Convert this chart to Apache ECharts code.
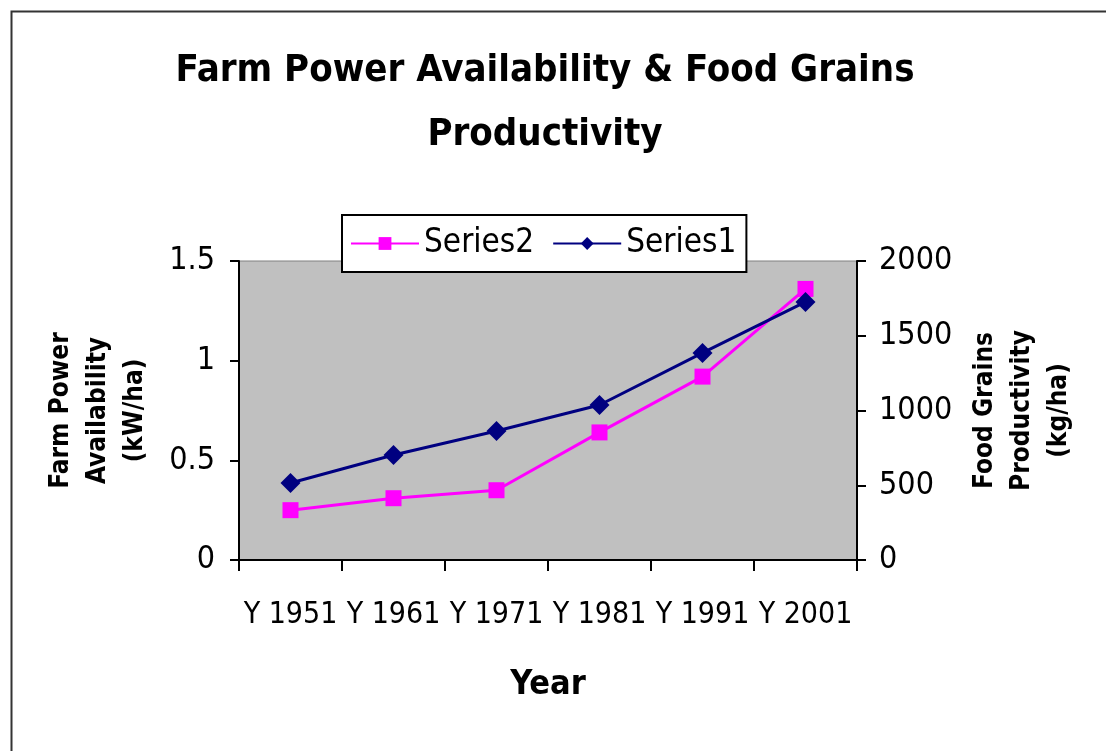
<!DOCTYPE html>
<html>
<head>
<meta charset="utf-8">
<title>Farm Power Availability & Food Grains Productivity</title>
<script src="https://cdn.jsdelivr.net/npm/echarts@6/dist/echarts.min.js"></script>
<style>
  html, body { margin: 0; padding: 0; background: #fff; }
  #main { width: 1106px; height: 751px; }
</style>
</head>
<body>
<div id="main"></div>
<script>
// data
var years = ['Y 1951', 'Y 1961', 'Y 1971', 'Y 1981', 'Y 1991', 'Y 2001'];
var farmPower = [0.25, 0.31, 0.35, 0.64, 0.92, 1.36];      // Series2, kW/ha (left axis)
var foodGrains = [515, 702, 863, 1037, 1385, 1726];        // Series1, kg/ha (right axis)
var leftTicks = [0, 0.5, 1, 1.5];
var rightTicks = [0, 500, 1000, 1500, 2000];

var font = '"Liberation Sans Narrow", "Arial Narrow", "DejaVu Sans Condensed", Arial, sans-serif';
var tickStyle = { color: '#000', width: 2 };

var myChart = echarts.init(document.getElementById('main'));

function range(ticks) {
  return { min: ticks[0], max: ticks[ticks.length - 1], interval: ticks[1] - ticks[0] };
}

myChart.setOption({
  backgroundColor: '#fff',
  textStyle: { fontFamily: font },
  title: {
    text: 'Farm Power Availability & Food Grains\nProductivity',
    left: 540, top: 34, textAlign: 'center',
    textStyle: { fontFamily: font, fontSize: 38, fontWeight: 'bold', color: '#000', lineHeight: 64 }
  },
  legend: {
    data: ['Series2', 'Series1'],
    left: 342, top: 215,
    padding: [12, 10, 12, 8],
    itemGap: 18,
    itemWidth: 68, itemHeight: 16,
    backgroundColor: '#fff',
    borderColor: '#000', borderWidth: 2, borderRadius: 0,
    textStyle: { fontFamily: font, fontSize: 33, color: '#000' },
    z: 10
  },
  grid: {
    left: 239, right: 249, top: 261, bottom: 191,
    show: true, backgroundColor: '#c0c0c0', borderColor: '#808080', borderWidth: 1
  },
  xAxis: {
    type: 'category', data: years,
    name: 'Year', nameLocation: 'middle', nameGap: 108,
    nameTextStyle: { fontFamily: font, fontSize: 34, fontWeight: 'bold', color: '#000' },
    axisLine: { lineStyle: { color: '#000', width: 2 } },
    axisTick: { show: true, length: 11, lineStyle: tickStyle },
    axisLabel: { interval: 0, margin: 40, fontFamily: font, fontSize: 30, color: '#000' }
  },
  yAxis: [Object.assign({
    type: 'value', position: 'left',
    name: 'Farm Power\nAvailability\n(kW/ha)', nameLocation: 'middle', nameRotate: 90, nameGap: 85,
    nameTextStyle: { fontFamily: font, fontSize: 26, fontWeight: 'bold', color: '#000', lineHeight: 37 },
    axisLine: { show: true, lineStyle: { color: '#000', width: 2 } },
    axisTick: { show: true, length: 9, lineStyle: tickStyle },
    axisLabel: { margin: 24, fontFamily: font, fontSize: 32, color: '#000' },
    splitLine: { show: false }
  }, range(leftTicks)), Object.assign({
    type: 'value', position: 'right',
    name: 'Food Grains\nProductivity\n(kg/ha)', nameLocation: 'middle', nameRotate: 90, nameGap: 110,
    nameTextStyle: { fontFamily: font, fontSize: 26, fontWeight: 'bold', color: '#000', lineHeight: 37 },
    axisLine: { show: true, lineStyle: { color: '#000', width: 2 } },
    axisTick: { show: true, length: 9, lineStyle: tickStyle },
    axisLabel: { margin: 22, fontFamily: font, fontSize: 32, color: '#000', formatter: function (v) { return String(v); } },
    splitLine: { show: false }
  }, range(rightTicks))],
  series: [{
    name: 'Series2', type: 'line', yAxisIndex: 0,
    data: farmPower,
    symbol: 'rect', symbolSize: 16,
    lineStyle: { color: '#ff00ff', width: 3 },
    itemStyle: { color: '#ff00ff' }
  }, {
    name: 'Series1', type: 'line', yAxisIndex: 1,
    data: foodGrains,
    symbol: 'diamond', symbolSize: 20,
    lineStyle: { color: '#000080', width: 3 },
    itemStyle: { color: '#000080' }
  }],
  graphic: [{
    // outer chart border (right and bottom run off the picture)
    type: 'rect', left: 9, top: 9, silent: true, z: -1,
    shape: { width: 1120, height: 780 },
    style: { fill: 'none', stroke: '#333', lineWidth: 2 }
  }]
});
</script>
</body>
</html>
